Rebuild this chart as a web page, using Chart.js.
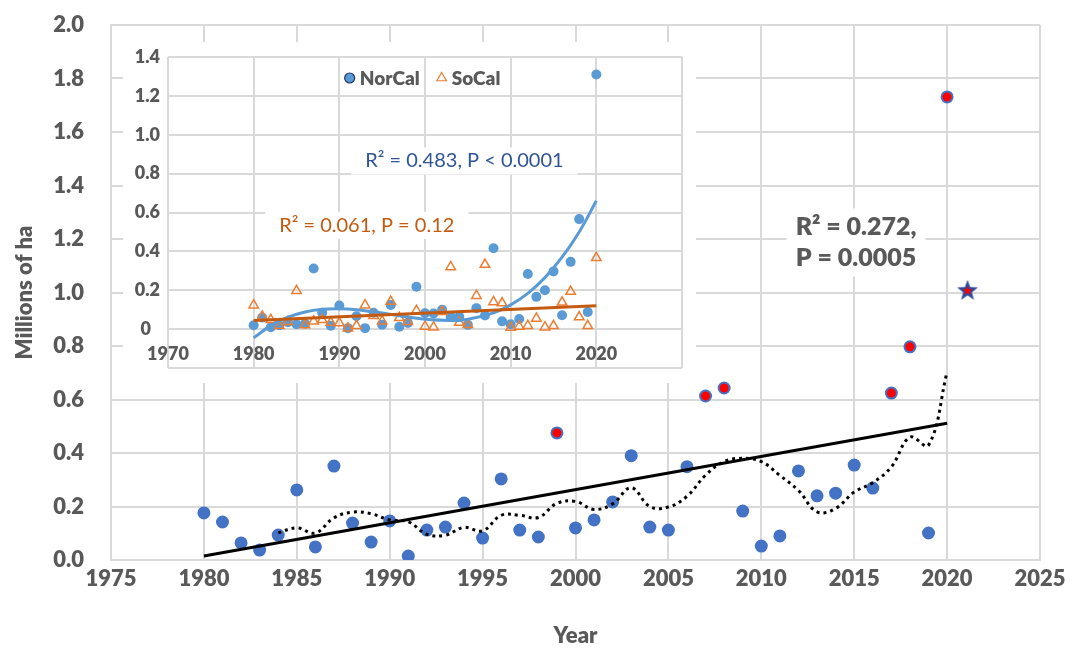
<!DOCTYPE html>
<html>
<head>
<meta charset="utf-8">
<script src="https://cdn.jsdelivr.net/npm/chart.js@4.4.1/dist/chart.umd.min.js"></script>
<style>
  html, body { margin: 0; padding: 0; background: #fff; }
  #wrap { position: relative; width: 1072px; height: 650px; }
  #main { position: absolute; left: 0; top: 0; }
  #inset { position: absolute; left: 123px; top: 42px; background: #fff; }
</style>
</head>
<body>
<div id="wrap">
  <canvas id="main" width="1072" height="650"></canvas>
  <canvas id="inset" width="573" height="341"></canvas>
</div>
<script>
// ---- main chart data (millions of ha) ----
const years = [1980, 1981, 1982, 1983, 1984, 1985, 1986, 1987, 1988, 1989,
               1990, 1991, 1992, 1993, 1994, 1995, 1996, 1997, 1998, 1999,
               2000, 2001, 2002, 2003, 2004, 2005, 2006, 2007, 2008, 2009,
               2010, 2011, 2012, 2013, 2014, 2015, 2016, 2017, 2018, 2019, 2020];
const totalArea = [0.176, 0.142, 0.064, 0.037, 0.093, 0.262, 0.049, 0.351, 0.138, 0.067,
                   0.146, 0.015, 0.112, 0.123, 0.213, 0.082, 0.303, 0.112, 0.086, 0.475,
                   0.120, 0.150, 0.217, 0.390, 0.123, 0.112, 0.349, 0.613, 0.643, 0.183,
                   0.052, 0.090, 0.333, 0.240, 0.250, 0.355, 0.269, 0.624, 0.797, 0.101, 1.731];
const highlightYears = [1999, 2007, 2008, 2017, 2018, 2020];

// 5-year running mean (dotted)
const avgYears = [1984, 1985, 1986, 1987, 1988, 1989, 1990, 1991, 1992, 1993,
                  1994, 1995, 1996, 1997, 1998, 1999, 2000, 2001, 2002, 2003,
                  2004, 2005, 2006, 2007, 2008, 2009, 2010, 2011, 2012, 2013,
                  2014, 2015, 2016, 2017, 2018, 2019, 2020];
const movingAvg = [0.102, 0.120, 0.101, 0.158, 0.179, 0.173, 0.150, 0.143, 0.096, 0.093,
                   0.122, 0.109, 0.167, 0.167, 0.159, 0.212, 0.219, 0.189, 0.210, 0.270,
                   0.200, 0.198, 0.238, 0.317, 0.368, 0.380, 0.368, 0.316, 0.260, 0.180,
                   0.193, 0.254, 0.289, 0.348, 0.459, 0.429, 0.704];

// linear trend
const trendYears = [1980, 2020];
const trendValues = [0.015, 0.511];

// 2021 point (star)
const starYear = [2021.1];
const starValue = [1.01];

const mainTicksX = [1975, 1980, 1985, 1990, 1995, 2000, 2005, 2010, 2015, 2020, 2025];

// ---- inset data ----
const norCal = [0.020, 0.060, 0.010, 0.020, 0.035, 0.025, 0.028, 0.312, 0.084, 0.017,
                0.122, 0.005, 0.066, 0.005, 0.084, 0.023, 0.124, 0.012, 0.032, 0.218,
                0.082, 0.080, 0.100, 0.063, 0.063, 0.022, 0.108, 0.070, 0.416, 0.040,
                0.025, 0.052, 0.284, 0.166, 0.200, 0.297, 0.071, 0.346, 0.566, 0.088, 1.310];
const soCal = [0.123, 0.065, 0.048, 0.017, 0.038, 0.197, 0.021, 0.041, 0.048, 0.034,
               0.031, 0.005, 0.017, 0.123, 0.069, 0.041, 0.142, 0.058, 0.038, 0.095,
               0.014, 0.010, 0.090, 0.320, 0.034, 0.022, 0.172, 0.332, 0.140, 0.134,
               0.008, 0.014, 0.018, 0.055, 0.010, 0.017, 0.138, 0.193, 0.062, 0.017, 0.367];

// NorCal polynomial trend
const norFitYears = [1980, 1982, 1984, 1986, 1988, 1990, 1992, 1995, 1998, 2000,
                     2003, 2005, 2008, 2010, 2012, 2014, 2016, 2018, 2020];
const norFitValues = [-0.045, 0.018, 0.061, 0.088, 0.102, 0.105, 0.100, 0.083, 0.062, 0.051,
                      0.045, 0.051, 0.084, 0.125, 0.184, 0.265, 0.370, 0.500, 0.660];
// SoCal linear trend
const soFitYears = [1980, 2020];
const soFitValues = [0.045, 0.120];

const GREY = '#595959';
const GRID = '#d9d9d9';
const FONT = 'Lato';

function pts(xs, ys) {
    return xs.map((x, i) => ({ x: x, y: ys[i] }));
}

// Filled star marker used for the 2021 value
function starMarker() {
    const c = document.createElement('canvas');
    c.width = 24;
    c.height = 24;
    const g = c.getContext('2d');
    const star = (r1, r2, color) => {
        g.beginPath();
        for (let i = 0; i < 10; i++) {
            const r = i % 2 ? r2 : r1;
            const a = -Math.PI / 2 + i * Math.PI / 5;
            g.lineTo(12 + r * Math.cos(a), 13 + r * Math.sin(a));
        }
        g.closePath();
        g.fillStyle = color;
        g.fill();
    };
    star(11, 4.6, '#2e4a9c');
    star(5, 2.1, '#ff0000');
    return c;
}

// Text boxes with white background, anchored at data coordinates
const labelBoxes = {
    id: 'labelBoxes',
    beforeDatasetsDraw(chart, args, opts) {
        const ctx = chart.ctx;
        (opts.items || []).forEach(item => {
            const cx = chart.scales.x.getPixelForValue(item.x);
            const cy = chart.scales.y.getPixelForValue(item.y);
            ctx.save();
            ctx.font = item.font;
            const w = Math.max(...item.lines.map(l => ctx.measureText(l).width)) + item.padX * 2;
            const h = item.lineHeight * item.lines.length + item.padY * 2;
            ctx.fillStyle = '#fff';
            ctx.fillRect(cx - w / 2, cy - h / 2, w, h);
            ctx.fillStyle = item.color;
            ctx.textAlign = 'center';
            ctx.textBaseline = 'middle';
            item.lines.forEach((l, i) => {
                ctx.fillText(l, cx, cy - h / 2 + item.padY + item.lineHeight * (i + 0.5));
            });
            ctx.restore();
        });
    }
};

// Small legend drawn inside the inset plot area
const insetLegend = {
    id: 'insetLegend',
    afterDatasetsDraw(chart, args, opts) {
        const ctx = chart.ctx;
        const area = chart.chartArea;
        ctx.save();
        ctx.font = opts.font;
        const marker = 12, gap = 4, spacing = 16;
        const items = opts.items.map(it => {
            const ds = chart.data.datasets[it.index];
            return { ds: ds, stroke: it.stroke, w: ctx.measureText(ds.label).width };
        });
        let total = items.reduce((s, it) => s + marker + gap + it.w, 0) + spacing * (items.length - 1);
        let x = (area.left + area.right) / 2 - total / 2 + opts.shiftX;
        const y = area.top + opts.offsetY;
        items.forEach(it => {
            ctx.fillStyle = it.ds.pointBackgroundColor;
            ctx.strokeStyle = it.stroke;
            ctx.lineWidth = 1.2;
            Chart.helpers.drawPoint(ctx, {
                pointStyle: it.ds.pointStyle,
                radius: it.ds.pointRadius,
                borderWidth: 1.2,
                rotation: 0
            }, x + marker / 2, y);
            ctx.fillStyle = opts.color;
            ctx.textAlign = 'left';
            ctx.textBaseline = 'middle';
            ctx.fillText(it.ds.label, x + marker + gap, y + 1);
            x += marker + gap + it.w + spacing;
        });
        ctx.restore();
    }
};

// y axes: fixed width, and no extra top/bottom padding from the tick padding
function fixYAxis(width) {
    return s => {
        s.width = width;
        s.paddingTop = 0;
        s.paddingBottom = 0;
    };
}

// ---- main chart ----
new Chart(document.getElementById('main'), {
    type: 'scatter',
    data: {
        datasets: [
            {
                label: 'Linear trend',
                data: pts(trendYears, trendValues),
                showLine: true,
                borderColor: '#000',
                borderWidth: 3,
                pointRadius: 0
            },
            {
                label: '5-yr mean',
                data: pts(avgYears, movingAvg),
                showLine: true,
                borderColor: '#000',
                borderWidth: 3,
                borderDash: [3, 4],
                tension: 0.4,
                pointRadius: 0
            },
            {
                label: '2021',
                data: pts(starYear, starValue),
                pointStyle: starMarker(),
                pointRadius: 12
            },
            {
                label: 'Area burned',
                data: pts(years, totalArea),
                pointRadius: 5.5,
                pointBorderWidth: 2,
                pointBorderColor: '#4472c4',
                pointBackgroundColor: years.map(y => highlightYears.includes(y) ? '#ff0000' : '#4472c4')
            }
        ]
    },
    options: {
        responsive: false,
        animation: false,
        events: [],
        layout: { padding: { left: 0, top: 25, right: 32, bottom: 0 } },
        scales: {
            x: {
                type: 'linear',
                min: 1975,
                max: 2025,
                afterBuildTicks: s => { s.ticks = mainTicksX.map(v => ({ value: v })); },
                afterFit: s => { s.height = 90; },
                ticks: {
                    autoSkip: false,
                    maxRotation: 0,
                    padding: 6,
                    color: GREY,
                    font: { family: FONT, size: 22, weight: '800' },
                    callback: v => String(v)
                },
                grid: { color: GRID, lineWidth: 2, drawTicks: false },
                border: { color: GRID, width: 2 },
                title: {
                    display: true,
                    text: 'Year',
                    color: GREY,
                    font: { family: FONT, size: 22, weight: '800' },
                    padding: { top: 0, bottom: 1 }
                }
            },
            y: {
                min: 0,
                max: 2,
                afterFit: fixYAxis(111),
                ticks: {
                    stepSize: 0.2,
                    padding: 27,
                    color: GREY,
                    font: { family: FONT, size: 22, weight: '800' },
                    callback: v => v.toFixed(1)
                },
                grid: { color: GRID, lineWidth: 2, drawTicks: false },
                border: { color: GRID, width: 2 },
                title: {
                    display: true,
                    text: 'Millions of ha',
                    color: GREY,
                    font: { family: FONT, size: 22, weight: '800' },
                    padding: { top: 12, bottom: 0 }
                }
            }
        },
        plugins: {
            legend: { display: false },
            tooltip: { enabled: false },
            labelBoxes: {
                items: [{
                    x: 2015.1, y: 1.187,
                    lines: ['R\u00b2 = 0.272,', 'P = 0.0005'],
                    font: '800 25px ' + FONT,
                    lineHeight: 31.6, padX: 9, padY: 2.4,
                    color: GREY
                }]
            }
        }
    },
    plugins: [labelBoxes]
});

// ---- inset chart ----
new Chart(document.getElementById('inset'), {
    type: 'scatter',
    data: {
        datasets: [
            {
                label: 'SoCal trend',
                data: pts(soFitYears, soFitValues),
                showLine: true,
                borderColor: '#c55a11',
                borderWidth: 3,
                pointRadius: 0
            },
            {
                label: 'NorCal trend',
                data: pts(norFitYears, norFitValues),
                showLine: true,
                borderColor: '#5b9bd5',
                borderWidth: 3,
                tension: 0.4,
                pointRadius: 0
            },
            {
                label: 'SoCal',
                data: pts(years, soCal),
                pointStyle: 'triangle',
                pointRadius: 5.5,
                pointBorderWidth: 1.5,
                pointBorderColor: '#ed7d31',
                pointBackgroundColor: 'rgba(255,255,255,0)'
            },
            {
                label: 'NorCal',
                data: pts(years, norCal),
                pointStyle: 'circle',
                pointRadius: 5,
                pointBorderWidth: 0,
                pointBackgroundColor: '#5b9bd5'
            }
        ]
    },
    options: {
        responsive: false,
        animation: false,
        events: [],
        layout: { padding: { left: 0, top: 15, right: 9, bottom: 15 } },
        scales: {
            x: {
                type: 'linear',
                min: 1970,
                max: 2030,
                position: { y: 0 },
                ticks: {
                    stepSize: 10,
                    maxRotation: 0,
                    autoSkip: false,
                    padding: 14,
                    color: GREY,
                    font: { family: FONT, size: 18, weight: '800' },
                    callback: v => v > 2020 ? '' : String(v)
                },
                grid: { color: GRID, lineWidth: 2, drawTicks: false },
                border: { display: false }
            },
            y: {
                min: -0.2,
                max: 1.4,
                afterFit: fixYAxis(45),
                ticks: {
                    stepSize: 0.2,
                    padding: 8,
                    color: GREY,
                    font: { family: FONT, size: 18, weight: '800' },
                    callback: v => v < -0.01 ? '' : (Math.abs(v) < 1e-6 ? '0\u2002' : v.toFixed(1))
                },
                grid: { color: GRID, lineWidth: 2, drawTicks: false },
                border: { display: false }
            }
        },
        plugins: {
            legend: { display: false },
            tooltip: { enabled: false },
            labelBoxes: {
                items: [
                    {
                        x: 2004.6, y: 0.865,
                        lines: ['R\u00b2 = 0.483, P < 0.0001'],
                        font: '20px ' + FONT,
                        lineHeight: 27, padX: 14, padY: 0,
                        color: '#2f5597'
                    },
                    {
                        x: 1993.2, y: 0.534,
                        lines: ['R\u00b2 = 0.061, P = 0.12'],
                        font: '20px ' + FONT,
                        lineHeight: 27, padX: 14, padY: 0,
                        color: '#c55a11'
                    }
                ]
            },
            insetLegend: {
                font: '800 19px ' + FONT,
                color: GREY,
                offsetY: 21,
                shiftX: -3,
                items: [
                    { index: 3, stroke: '#203864' },
                    { index: 2, stroke: '#ed7d31' }
                ]
            }
        }
    },
    plugins: [labelBoxes, insetLegend]
});
</script>
</body>
</html>
